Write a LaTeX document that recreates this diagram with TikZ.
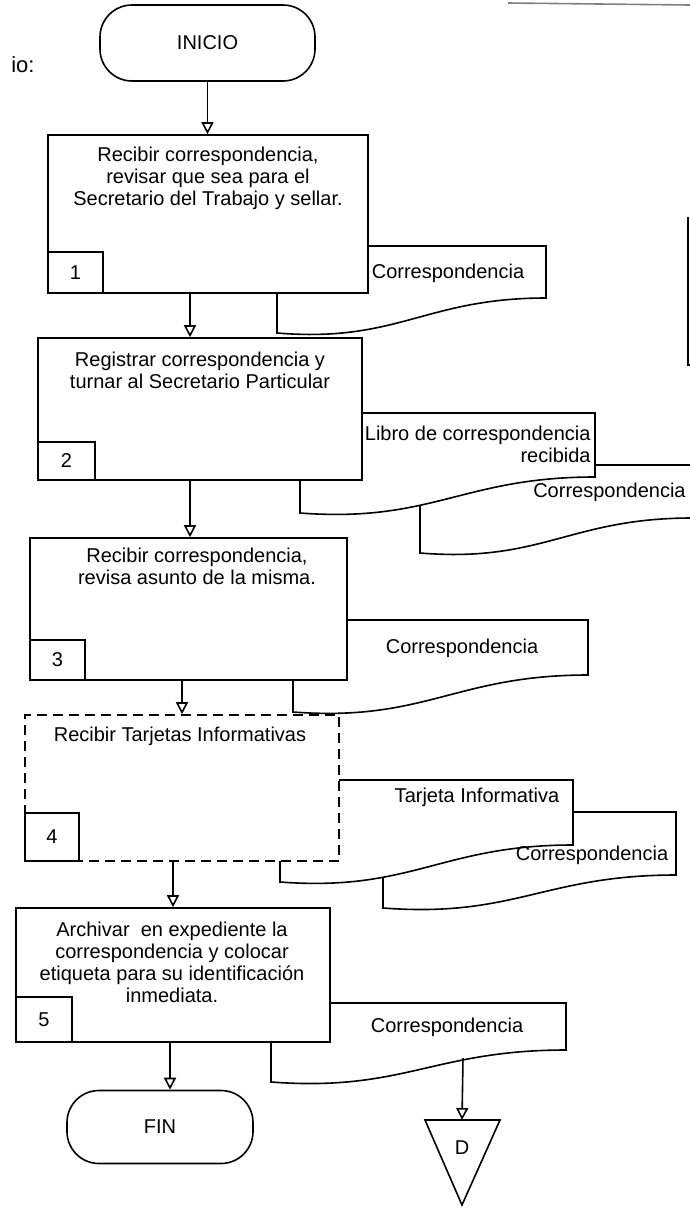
\documentclass[tikz,border=0pt]{standalone}
\usepackage{fontspec}
\setmainfont{Liberation Sans}
\usetikzlibrary{positioning,arrows.meta}

\tikzset{
  procbox/.style={draw,thick,fill=white,rectangle,inner sep=0pt},
  numbox/.style={draw,thick,fill=white,rectangle,inner sep=0pt,anchor=south west,font=\fontsize{10}{11.5}\selectfont},
  termbox/.style={draw,thick,fill=white,rectangle,rounded corners=16pt,inner sep=0pt,font=\fontsize{10}{11.5}\selectfont},
  txt/.style={align=center,inner sep=0pt,font=\fontsize{10}{11}\selectfont},
  docline/.style={draw,thick,fill=white},
  flecha/.style={->,thick},
}

% documento: izquierda, arriba, derecha, abajo derecha, abajo izquierda
\newcommand{\docu}[5]{%
  \draw[docline] (#1,#2) -- (#3,#2) -- (#3,#4)
    .. controls ({#3-0.45*(#3-#1)},#4) and ({#1+0.45*(#3-#1)},{#5+10}) .. (#1,#5) -- cycle;}

\begin{document}
\begin{tikzpicture}[x=0.5pt,y=-0.5pt,>={Triangle[open,length=6pt,width=6pt]}]

\useasboundingbox (0,0) rectangle (690,1211);

% restos de la hoja
\draw[gray,thick] (508,3) -- (690,5);
\draw[thick] (690,365) -- (688,365) -- (688,217);
\node [anchor=east,inner sep=0pt,font=\fontsize{11}{12}\selectfont] (titulo) at (35,65) {io:};

% documentos
\docu{277}{246}{546}{298}{333}
\node [txt] (c1) at (448,273) {Correspondencia};

\docu{420}{465}{692}{518}{553}
\docu{300}{413}{595}{477}{513}
\node [txt,align=right,anchor=east] (libro) at (591,444) {Libro de correspondencia\\recibida};
\node [txt,anchor=east] (c2) at (686,492) {Correspondencia};

\docu{293}{620}{588}{675}{712}
\node [txt] (c3) at (462,648) {Correspondencia};

\docu{383}{812}{676}{875}{908}
\docu{280}{780}{573}{845}{882}
\node [txt] (tarjeta) at (477,797) {Tarjeta Informativa};
\node [txt] (c4) at (592,855) {Correspondencia};

\docu{271}{1003}{566}{1050}{1082}
\node [txt] (c5) at (447,1027) {Correspondencia};

% pasos
\node [termbox,minimum width=107.5pt,minimum height=38pt] (inicio) at (207.5,43) {INICIO};

\node [procbox,minimum width=160pt,minimum height=79pt] (paso1) at (208,214) {};
\node [txt] (t1) at (208,178) {Recibir correspondencia,\\revisar que sea para el\\Secretario del Trabajo y sellar.};
\node [numbox,minimum width=27.5pt,minimum height=20.5pt] (n1) at (paso1.south west) {1};

\node [procbox,minimum width=162pt,minimum height=71pt] (paso2) at (200,409) {};
\node [txt] (t2) at (200,370) {Registrar correspondencia y\\turnar al Secretario Particular};
\node [numbox,minimum width=28.5pt,minimum height=19pt] (n2) at (paso2.south west) {2};

\node [procbox,minimum width=158.5pt,minimum height=71pt] (paso3) at (188.5,609) {};
\node [txt] (t3) at (197,566) {Recibir correspondencia,\\revisa asunto de la misma.};
\node [numbox,minimum width=27.5pt,minimum height=20pt] (n3) at (paso3.south west) {3};

\node [procbox,dash pattern=on 5pt off 3pt,minimum width=157pt,minimum height=73pt] (paso4) at (182,788) {};
\node [txt] (t4) at (180,736) {Recibir Tarjetas Informativas};
\node [numbox,minimum width=27pt,minimum height=24pt] (n4) at (paso4.south west) {4};

\node [procbox,minimum width=157pt,minimum height=67pt] (paso5) at (173,975) {};
\node [txt] (t5) at (172,962) {Archivar\ \ en expediente la\\correspondencia y colocar\\etiqueta para su identificación\\inmediata.};
\node [numbox,minimum width=28pt,minimum height=22.5pt] (n5) at (paso5.south west) {5};

\node [termbox,minimum width=93pt,minimum height=36.5pt] (fin) at (160,1127) {FIN};

% archivo definitivo
\draw[thick] (425,1120) -- (500,1120) -- (462,1205) -- cycle;
\coordinate (dtop) at (462,1120);
\coordinate (d5out) at (463,1058);
\node [txt] (dlab) at (462,1148) {D};

% flechas
\draw[flecha] (inicio.south) -- (inicio.south |- paso1.north);
\draw[flecha] ([xshift=-9pt]paso1.south) -- ([xshift=-9pt]paso1.south |- paso2.north);
\draw[flecha] ([xshift=-5pt]paso2.south) -- ([xshift=-5pt]paso2.south |- paso3.north);
\draw[flecha] ([xshift=-3.25pt]paso3.south) -- ([xshift=-3.25pt]paso3.south |- paso4.north);
\draw[flecha] ([xshift=-4.5pt]paso4.south) -- ([xshift=-4.5pt]paso4.south |- paso5.north);
\draw[flecha] ([xshift=-1.5pt]paso5.south) -- ([xshift=-1.5pt]paso5.south |- fin.north);
\draw[flecha] (d5out) -- (dtop);

\end{tikzpicture}
\end{document}
